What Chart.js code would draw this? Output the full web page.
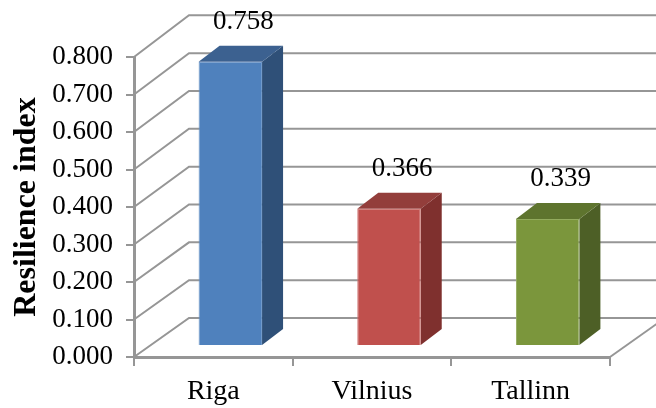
<!DOCTYPE html>
<html lang="en">
<head>
  <meta charset="UTF-8" />
  <title>Resilience index</title>
  <script src="https://cdn.jsdelivr.net/npm/chart.js"></script>
  <style>
    html,body{margin:0;padding:0;background:#fff;}
    canvas{display:block;}
  </style>
</head>
<body>
  <canvas id="resilienceChart" width="656" height="408"></canvas>

  <script>
    const cities=['Riga','Vilnius','Tallinn'];
    const resilience=[0.758,0.366,0.339];
    const yTicks=[0,0.1,0.2,0.3,0.4,0.5,0.6,0.7,0.8];
    const frontColors=['#4f81bd','#c0504d','#7b963c'];
    const edgeColors=['#6b95c9','#cd6f6c','#93ab5e'];
    const topColors=['#3c6190','#933e3b','#5e742e'];
    const sideColors=['#2f5078','#7f302e','#4d5f26'];

    const serif='"Liberation Serif","Times New Roman",serif';
    const gridColor='#969696';

    // depth of the box and how far the columns sit inside it
    const wallDx=55, wallDy=-39, wallStretch=0.009;
    const barDx=17, barDy=-11;
    const faceDx=21, faceDy=-16;

    function polygon(ctx,points,fill){
      ctx.fillStyle=fill;
      ctx.beginPath();
      points.forEach(([x,y],i)=>i?ctx.lineTo(x,y):ctx.moveTo(x,y));
      ctx.closePath();
      ctx.fill();
    }

    const box3d={
      id:'box3d',
      beforeDatasetsDraw(chart){
        const {ctx,chartArea,scales:{y}}=chart;
        ctx.save();
        ctx.strokeStyle=gridColor;
        ctx.lineWidth=2;
        yTicks.forEach(t=>{
          const py=y.getPixelForValue(t);
          const backY=py+wallDy+(py-chartArea.bottom)*wallStretch;
          ctx.beginPath();
          ctx.moveTo(chartArea.left,py);
          ctx.lineTo(chartArea.left+wallDx,backY);
          ctx.lineTo(chart.width,backY);
          ctx.stroke();
        });
        // right edge of the floor
        ctx.beginPath();
        ctx.moveTo(chartArea.right,chartArea.bottom);
        ctx.lineTo(chartArea.right+wallDx,chartArea.bottom+wallDy);
        ctx.stroke();
        ctx.restore();
      },
      beforeDatasetDraw(chart){
        const {ctx}=chart;
        ctx.save();
        ctx.translate(barDx,barDy);
        chart.getDatasetMeta(0).data.forEach((bar,i)=>{
          const {x,y,base,width}=bar.getProps(['x','y','base','width'],true);
          const l=x-width/2, r=x+width/2;
          polygon(ctx,[[r,y],[r+faceDx,y+faceDy],[r+faceDx,base+faceDy],[r,base]],sideColors[i]);
          polygon(ctx,[[l,y],[l+faceDx,y+faceDy],[r+faceDx,y+faceDy],[r,y]],topColors[i]);
        });
      },
      afterDatasetDraw(chart){
        const {ctx}=chart;
        ctx.restore();
        ctx.save();
        ctx.fillStyle='#000';
        ctx.font='27px '+serif;
        ctx.textAlign='center';
        ctx.textBaseline='middle';
        chart.getDatasetMeta(0).data.forEach((bar,i)=>{
          const {x,y}=bar.getProps(['x','y'],true);
          ctx.fillText(resilience[i].toFixed(3),x+barDx+13,y+barDy+faceDy-24);
        });
        ctx.restore();
      }
    };

    new Chart(document.getElementById('resilienceChart'),{
      type:'bar',
      data:{
        labels:cities,
        datasets:[{
          data:resilience,
          backgroundColor:frontColors,
          borderColor:edgeColors,
          borderWidth:1,
          barPercentage:.4,
          categoryPercentage:1
        }]
      },
      options:{
        responsive:false,
        animation:false,
        layout:{padding:{top:57,right:46,left:8}},
        plugins:{legend:{display:false},tooltip:{enabled:false}},
        scales:{
          x:{
            afterFit:s=>{s.height=51;},
            border:{color:gridColor,width:3},
            grid:{drawOnChartArea:false,color:gridColor,lineWidth:2,tickLength:9},
            ticks:{color:'#000',font:{family:serif,size:28},padding:9,maxRotation:0}
          },
          y:{
            min:0,
            max:0.8,
            afterFit:s=>{s.width=126;},
            afterBuildTicks:s=>{s.ticks=yTicks.map(value=>({value}));},
            border:{color:gridColor,width:3},
            grid:{drawOnChartArea:false,color:gridColor,lineWidth:2,tickLength:8},
            ticks:{color:'#000',font:{family:serif,size:27},padding:13,callback:v=>v.toFixed(3)},
            title:{display:true,text:'Resilience index',color:'#000',padding:0,
                   font:{family:serif,size:32,weight:'bold'}}
          }
        }
      },
      plugins:[box3d]
    });
  </script>
</body>
</html>
